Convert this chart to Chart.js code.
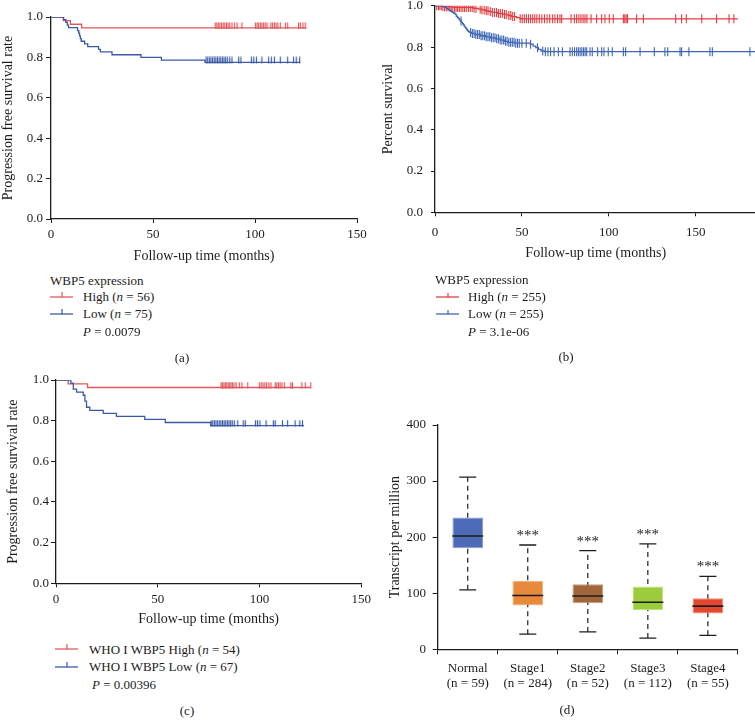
<!DOCTYPE html>
<html>
<head>
<meta charset="utf-8">
<script src="https://cdn.jsdelivr.net/npm/chart.js@4.4.0/dist/chart.umd.min.js"></script>
<style>
  body { margin: 0; width: 755px; height: 728px; overflow: hidden; background: #fff; position: relative;
         font-family: "Liberation Serif", serif; color: #1c1c1c; }
  canvas { position: absolute; }
  .t { position: absolute; font-size: 13px; line-height: 16px; white-space: nowrap; }
  .cap { position: absolute; font-size: 13px; line-height: 16px; width: 40px; text-align: center; }
  svg { position: absolute; }
</style>
</head>
<body>
<canvas id="kmA" width="375" height="270" style="left:0;top:0"></canvas>
<canvas id="kmB" width="400" height="290" style="left:370px;top:-10px"></canvas>
<canvas id="kmC" width="375" height="280" style="left:0;top:360px"></canvas>
<canvas id="boxD" width="385" height="328" style="left:370px;top:400px"></canvas>

<!-- (a) legend -->
<div class="t" style="left:50px;top:273px">WBP5 expression</div>
<svg width="24" height="10" style="left:50px;top:289px"><line x1="0" y1="8" x2="23" y2="8" stroke="#e0585c" stroke-width="1.3"/><line x1="12" y1="3" x2="12" y2="8" stroke="#e0585c" stroke-width="1.2"/></svg>
<div class="t" style="left:83px;top:289px">High (<i>n</i> = 56)</div>
<svg width="24" height="10" style="left:50px;top:306px"><line x1="0" y1="8" x2="23" y2="8" stroke="#3a5aa5" stroke-width="1.3"/><line x1="12" y1="3" x2="12" y2="8" stroke="#3a5aa5" stroke-width="1.2"/></svg>
<div class="t" style="left:83px;top:306px">Low (<i>n</i> = 75)</div>
<div class="t" style="left:83px;top:324px"><i>P</i> = 0.0079</div>
<div class="cap" style="left:162px;top:350px">(a)</div>

<!-- (b) legend -->
<div class="t" style="left:435px;top:272px">WBP5 expression</div>
<svg width="24" height="10" style="left:436px;top:289px"><line x1="0" y1="8" x2="23" y2="8" stroke="#e63b40" stroke-width="1.3"/><line x1="12" y1="4" x2="12" y2="8" stroke="#e63b40" stroke-width="1.2"/></svg>
<div class="t" style="left:468px;top:289px">High (<i>n</i> = 255)</div>
<svg width="24" height="10" style="left:436px;top:306px"><line x1="0" y1="8" x2="23" y2="8" stroke="#3e66b4" stroke-width="1.3"/><line x1="12" y1="4" x2="12" y2="8" stroke="#3e66b4" stroke-width="1.2"/></svg>
<div class="t" style="left:468px;top:306px">Low (<i>n</i> = 255)</div>
<div class="t" style="left:468px;top:324px"><i>P</i> = 3.1e-06</div>
<div class="cap" style="left:546px;top:349px">(b)</div>

<!-- (c) legend -->
<svg width="24" height="10" style="left:55px;top:641px"><line x1="0" y1="8" x2="23" y2="8" stroke="#e0585c" stroke-width="1.3"/><line x1="12" y1="3" x2="12" y2="8" stroke="#e0585c" stroke-width="1.2"/></svg>
<div class="t" style="left:89px;top:642px">WHO I WBP5 High (<i>n</i> = 54)</div>
<svg width="24" height="10" style="left:55px;top:659px"><line x1="0" y1="8" x2="23" y2="8" stroke="#3a5aa5" stroke-width="1.3"/><line x1="12" y1="3" x2="12" y2="8" stroke="#3a5aa5" stroke-width="1.2"/></svg>
<div class="t" style="left:89px;top:659px">WHO I WBP5 Low (<i>n</i> = 67)</div>
<div class="t" style="left:92px;top:677px"><i>P</i> = 0.00396</div>
<div class="cap" style="left:167px;top:703px">(c)</div>

<div class="cap" style="left:547px;top:702px">(d)</div>

<script>
// ---- (a) PFS, WBP5 high vs low ----
const aHighT = [0, 6, 9.5, 15];
const aHighS = [1, 0.982, 0.964, 0.946];
const aHighCens = [80.5, 81.3, 82, 82.8, 83.6, 84.4, 85.2, 86, 86.8, 87.6, 88.7, 90, 91.2, 93.6,
  100.2, 101, 101.8, 102.6, 103.4, 104.2, 105, 105.9, 107.8, 108.6, 109.5, 110.3, 111.2, 112.4,
  114.9, 116, 121.3, 122.2, 123.5, 124.6];
const aHighEnd = 125.2;
const aLowT = [0, 6.2, 7.3, 8, 8.6, 13, 13.6, 14, 14.4, 14.8, 16.5, 18, 23.3, 24.2, 29.9, 44.1, 54.1, 75.5];
const aLowS = [1, 0.987, 0.973, 0.96, 0.947, 0.933, 0.92, 0.907, 0.893, 0.88, 0.867, 0.853, 0.84, 0.827,
  0.813, 0.8, 0.787, 0.775];
const aLowCens = [76, 76.8, 77.6, 78.4, 79.2, 80, 80.8, 81.6, 82.4, 83.2, 84, 84.8, 85.6, 86.4, 87.6, 88.7,
  92, 93.1, 98.2, 99.4, 100.7, 103.4, 106.7, 108, 109.5, 112.4, 116, 118.9, 120.2, 121.9];
const aLowEnd = 122.2;

// ---- (b) overall survival ----
const bHighT = [0, 4, 10, 22, 25, 27, 29, 31, 33, 36, 39, 42, 44, 47, 49];
const bHighS = [1, 0.996, 0.992, 0.988, 0.984, 0.98, 0.976, 0.972, 0.968, 0.963, 0.958, 0.953, 0.948, 0.943, 0.937];
const bHighCens = [1, 2, 2.8, 3.6, 4.5, 5.5, 6.5, 7.5, 8.4, 9.3, 10.2, 11.2, 12.1, 13, 14, 15, 16, 17, 18,
  19.2, 20.3, 21.4, 22.5, 23.6, 26, 27, 28.3, 29.5, 30.5, 31.8, 33, 34.2, 35.4, 36.5, 37.6, 38.8, 40, 41,
  42.5, 43.6, 44.7, 45.8, 49, 50.2, 51.4, 52.6, 53.8, 55, 56.2, 57.4, 58.6, 60, 61.5, 63, 64.5, 66, 67.7,
  69, 70.5, 71.9, 72.9, 78.3, 80.2, 81.5, 82.8, 84, 85.2, 86.3, 87.4, 89.8, 93, 95.9, 97.8, 100.3, 102.6,
  108.4, 109.2, 110, 110.8, 116, 119.9, 138.5, 141.9, 144.6, 153.5, 162, 169.2, 172];
const bHighEnd = 174.3;
const bLowT = [0, 4.6, 5.5, 6.5, 7.3, 8, 8.6, 9.3, 10, 10.8, 11.5, 12.2, 12.8, 13.5, 14.1, 14.6, 15.2, 15.8,
  16.3, 16.8, 17.3, 17.8, 18.3, 18.8, 19.3, 19.8, 21, 23, 26, 29, 32, 35, 37.5, 40, 42, 46, 54.7, 56.5,
  58, 59.5, 61, 63];
const bLowS = [1, 0.996, 0.992, 0.988, 0.984, 0.98, 0.976, 0.972, 0.968, 0.964, 0.96, 0.95, 0.944, 0.938,
  0.932, 0.926, 0.92, 0.914, 0.908, 0.902, 0.896, 0.89, 0.884, 0.879, 0.875, 0.871, 0.866, 0.861, 0.855,
  0.85, 0.845, 0.84, 0.834, 0.828, 0.823, 0.819, 0.814, 0.805, 0.797, 0.789, 0.781, 0.778];
const bLowCens = [15, 20.5, 21.5, 22.5, 23.5, 24.5, 25.5, 26.5, 27.5, 28.5, 29.5, 30.5, 31.5, 32.5, 33.5,
  34.5, 35.5, 36.5, 37.5, 38.5, 39.5, 40.5, 41.5, 42.5, 43.5, 44.5, 45.5, 46.5, 47.5, 48.5, 50, 52.5, 55,
  59, 62, 63.5, 65, 66.5, 68.5, 71, 73.3, 77.7, 79, 80.3, 81.5, 82.5, 83.5, 84.5, 85.5, 86.4, 87.3, 89.2,
  90.5, 93.6, 95.9, 97.2, 99.7, 102, 108.4, 109.7, 118, 126.2, 132.3, 133.9, 141, 141.9, 146.1, 158.2,
  159.6, 181.2];
const bLowEnd = 185;

// ---- (c) PFS, WHO I subgroup ----
const cHighT = [0, 6, 15.5];
const cHighS = [1, 0.981, 0.963];
const cHighCens = [81.1, 81.8, 82.5, 83.2, 83.9, 84.6, 85.3, 86, 86.7, 87.5, 88.5, 90.1, 91.4, 94.2,
  99.9, 100.8, 101.7, 102.6, 103.5, 104.6, 105.6, 107.7, 108.5, 109.3, 110.1, 111, 112.2, 115.4, 116.2,
  120.8, 122.5, 125.2];
const cHighEnd = 125.2;
const cLowT = [0, 7.3, 8.5, 10.1, 13.4, 14.2, 15, 16.6, 23.2, 29.7, 43.6, 53.7, 76];
const cLowS = [1, 0.985, 0.955, 0.94, 0.925, 0.896, 0.866, 0.851, 0.836, 0.821, 0.806, 0.791, 0.776];
const cLowCens = [76.2, 77, 77.8, 78.6, 79.4, 80.2, 81, 81.8, 82.6, 83.4, 84.2, 85, 85.8, 86.6, 87.6, 89.3,
  92, 93, 98, 99, 100.2, 103.2, 106.8, 107.7, 111.3, 113.8, 117.5, 119.8, 121.1];
const cLowEnd = 121.9;

// ---- (d) expression by stage ----
const stages = ['Normal', 'Stage1', 'Stage2', 'Stage3', 'Stage4'];
const stageN = [59, 284, 52, 112, 55];
const tpmMin = [106, 27, 31, 20, 25];
const tpmQ1 = [180, 78, 82, 70, 64];
const tpmMed = [202, 96, 95, 84, 77];
const tpmQ3 = [235, 122, 116, 112, 91];
const tpmMax = [307, 186, 176, 188, 130];
const stars = ['', '***', '***', '***', '***'];

const ink = '#1c1c1c';
Chart.defaults.font.family = '"Liberation Serif", serif';
Chart.defaults.color = ink;

// small upward tick used as censor mark in (a) and (c)
function tickMark(color) {
  const c = document.createElement('canvas');
  c.width = 3; c.height = 12;
  const g = c.getContext('2d');
  g.strokeStyle = color; g.lineWidth = 1.2;
  g.beginPath(); g.moveTo(1.5, 0.5); g.lineTo(1.5, 7); g.stroke();
  return c;
}

function survAt(T, S, t) {
  let s = S[0];
  T.forEach((ti, i) => { if (ti <= t) s = S[i]; });
  return s;
}

function kmChart(id, cfg) {
  const datasets = [];
  cfg.curves.forEach(c => {
    const pts = c.t.map((t, i) => ({ x: t, y: c.s[i] }));
    pts.push({ x: c.end, y: c.s[c.s.length - 1] });
    datasets.push({ data: pts, borderColor: c.color, borderWidth: 1.3, stepped: true, pointRadius: 0, fill: false });
    datasets.push({
      data: c.cens.map(t => ({ x: t, y: survAt(c.t, c.s, t) })),
      showLine: false, pointStyle: c.mark, pointRadius: cfg.markR, pointRotation: c.rot,
      pointBorderColor: c.color, pointBackgroundColor: c.color, pointBorderWidth: 1.1
    });
  });
  const axisFont = { size: 13 };
  return new Chart(document.getElementById(id), {
    type: 'line',
    data: { datasets },
    options: {
      animation: false, responsive: false, events: [],
      layout: { padding: cfg.pad },
      plugins: { legend: { display: false }, tooltip: { enabled: false } },
      scales: {
        x: {
          type: 'linear', min: 0, max: cfg.xMax,
          afterFit: s => { s.height = cfg.xH; },
          ticks: { stepSize: 50, includeBounds: false, maxRotation: 0, padding: cfg.xPad, font: axisFont },
          grid: { drawOnChartArea: false, tickLength: 4, color: ink },
          border: { color: ink, width: 1.3 },
          title: { display: true, text: 'Follow-up time (months)', font: { size: 14 }, padding: { top: 0, bottom: cfg.xTitlePad } }
        },
        y: {
          min: 0, max: 1,
          afterFit: s => { s.width = cfg.yW; },
          ticks: { stepSize: 0.2, padding: cfg.yPad, font: axisFont, callback: v => v.toFixed(1) },
          grid: { drawOnChartArea: false, tickLength: cfg.yTick, color: ink },
          border: { color: ink, width: 1.3 },
          title: { display: true, text: cfg.yTitle, font: { size: 14 }, padding: { top: cfg.yTitlePad, bottom: 0 } }
        }
      }
    }
  });
}

const redA = '#e0585c', blueA = '#3a5aa5';
kmChart('kmA', {
  curves: [
    { t: aLowT, s: aLowS, cens: aLowCens, end: aLowEnd, color: blueA, mark: tickMark(blueA), rot: 0 },
    { t: aHighT, s: aHighS, cens: aHighCens, end: aHighEnd, color: redA, mark: tickMark(redA), rot: 0 }
  ],
  xMax: 150, markR: 3, pad: { left: 0, top: 17, right: 18, bottom: 0 },
  xH: 51, xPad: 4, xTitlePad: 5, yW: 51, yPad: 3, yTick: 5, yTitlePad: 0,
  yTitle: 'Progression free survival rate'
});

kmChart('kmB', {
  curves: [
    { t: bLowT, s: bLowS, cens: bLowCens, end: bLowEnd, color: '#3e66b4', mark: 'line', rot: 90 },
    { t: bHighT, s: bHighS, cens: bHighCens, end: bHighEnd, color: '#e63b40', mark: 'line', rot: 90 }
  ],
  xMax: 185, markR: 4.5, pad: { left: 0, top: 15, right: 13.5, bottom: 0 },
  xH: 67.7, xPad: 8, xTitlePad: 18, yW: 65, yPad: 8, yTick: 4, yTitlePad: 10,
  yTitle: 'Percent survival'
});

kmChart('kmC', {
  curves: [
    { t: cLowT, s: cLowS, cens: cLowCens, end: cLowEnd, color: blueA, mark: tickMark(blueA), rot: 0 },
    { t: cHighT, s: cHighS, cens: cHighCens, end: cHighEnd, color: redA, mark: tickMark(redA), rot: 0 }
  ],
  xMax: 150, markR: 3, pad: { left: 0, top: 20, right: 12.7, bottom: 0 },
  xH: 56.7, xPad: 4, xTitlePad: 12.6, yW: 56, yPad: 2, yTick: 5, yTitlePad: 4.6,
  yTitle: 'Progression free survival rate'
});

// ---- box plot ----
const boxFill = ['#4e6bb8', '#e8893b', '#a1673a', '#9ccb3c', '#e4472e'];
const boxEdge = ['#8a9dd3', '#f2b47f', '#c99a74', '#c3e184', '#f08d7a'];

// one dashed whisker per group (min to max); the box is drawn over its middle
// note: higher `order` is painted first, so whiskers get the largest value
const whiskers = stages.map((s, i) => ({
  type: 'line', order: 4,
  data: [{ x: s, y: tpmMin[i] }, { x: s, y: tpmMax[i] }],
  borderColor: ink, borderWidth: 1.2, borderDash: [5, 4], pointRadius: 0
}));

new Chart(document.getElementById('boxD'), {
  type: 'bar',
  data: {
    labels: stages,
    datasets: [
      {
        type: 'line', order: 0, showLine: false,
        data: stages.map((s, i) => ({ x: s, y: tpmMed[i] })),
        pointStyle: 'line', pointRadius: 15.5, pointBorderWidth: 1.6, pointBorderColor: ink
      },
      {
        type: 'line', order: 1, showLine: false,
        data: stages.flatMap((s, i) => [{ x: s, y: tpmMax[i] }, { x: s, y: tpmMin[i] }]),
        pointStyle: 'line', pointRadius: 8.5, pointBorderWidth: 1.3, pointBorderColor: ink
      },
      {
        type: 'bar', order: 3,
        data: tpmQ1.map((v, i) => [v, tpmQ3[i]]),
        backgroundColor: boxFill, borderColor: boxEdge, borderWidth: 1, borderSkipped: false,
        barPercentage: 0.51, categoryPercentage: 1
      },
      ...whiskers
    ]
  },
  options: {
    animation: false, responsive: false, events: [],
    layout: { padding: { left: 0, top: 25, right: 6.7, bottom: 0 } },
    plugins: { legend: { display: false }, tooltip: { enabled: false } },
    scales: {
      x: {
        afterFit: s => { s.height = 78.7; },
        ticks: { padding: 6.5, maxRotation: 0, font: { size: 13, lineHeight: 1.15 },
                 callback: (v, i) => [stages[i], '(n = ' + stageN[i] + ')'] },
        grid: { drawOnChartArea: false, tickLength: 5, color: ink, offset: true },
        border: { color: ink, width: 1.3 }
      },
      y: {
        min: 0, max: 400,
        afterFit: s => { s.width = 67.7; },
        ticks: { stepSize: 100, padding: 6.7, font: { size: 13 } },
        grid: { drawOnChartArea: false, tickLength: 5, color: ink },
        border: { color: ink, width: 1.3 },
        title: { display: true, text: 'Transcript per million', font: { size: 14 }, padding: { top: 16.6, bottom: 0 } }
      }
    }
  },
  plugins: [{
    id: 'stars',
    afterDatasetsDraw(chart) {
      const { ctx, scales: { x, y } } = chart;
      ctx.save();
      ctx.font = '15px "Liberation Serif"';
      ctx.fillStyle = ink;
      ctx.textAlign = 'center';
      ctx.textBaseline = 'alphabetic';
      stars.forEach((s, i) => {
        if (s) ctx.fillText(s, x.getPixelForValue(i), y.getPixelForValue(tpmMax[i]) - 5);
      });
      ctx.restore();
    }
  }]
});
</script>
</body>
</html>
